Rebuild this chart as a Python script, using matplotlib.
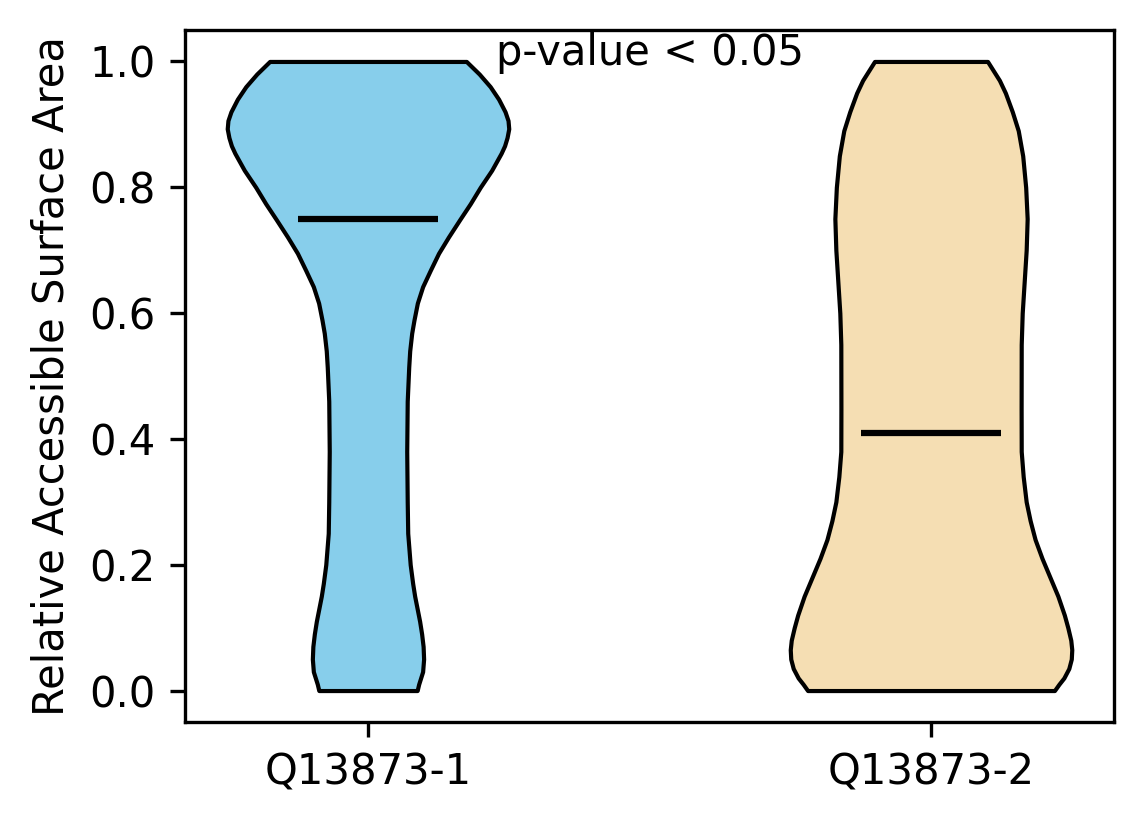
import numpy as np
import matplotlib
matplotlib.use('Agg')
import matplotlib.pyplot as plt

labels = ['Q13873-1', 'Q13873-2']
colors = ['skyblue', 'wheat']
means = [0.75, 0.41]

# density profile (relative half width), y in RSA units
rsa_1 = [0.0, 0.01, 0.02, 0.03, 0.05, 0.07, 0.09, 0.11, 0.13, 0.15,
         0.17, 0.20, 0.25, 0.30, 0.38, 0.46, 0.514, 0.54, 0.568, 0.589,
         0.616, 0.642, 0.668, 0.695, 0.721, 0.749, 0.774, 0.80, 0.827, 0.854,
         0.866, 0.879, 0.893, 0.906, 0.92, 0.94, 0.96, 0.98, 1.0]
dens_1 = [49.5, 51, 53, 55, 56, 55.5, 54, 52, 49.5, 47,
          45, 42.5, 40, 39.5, 39, 39.5, 41, 42, 44, 46.3,
          49.7, 55, 62.7, 71, 81, 92.5, 103, 113, 124.5, 134,
          137.5, 140, 141.7, 141, 138, 131.5, 123, 112, 99]

rsa_2 = [0.0, 0.01, 0.02, 0.035, 0.05, 0.065, 0.08, 0.10, 0.12, 0.15,
         0.18, 0.21, 0.24, 0.27, 0.30, 0.34, 0.38, 0.448, 0.55, 0.60,
         0.65, 0.70, 0.75, 0.80, 0.85, 0.89, 0.92, 0.95, 0.97, 0.985, 1.0]
dens_2 = [124.5, 129, 134, 139, 141.5, 142, 141, 138, 134.5, 128,
          120, 112, 105, 100, 96, 93, 91, 90.9, 91, 92,
          94, 96, 97, 95.5, 92.5, 88, 82, 75, 69, 63, 57]

stats = []
for rsa, dens, m in [(rsa_1, dens_1, means[0]), (rsa_2, dens_2, means[1])]:
    stats.append({'coords': np.array(rsa), 'vals': np.array(dens),
                  'mean': m, 'median': m, 'min': min(rsa), 'max': max(rsa)})

fig = plt.figure(figsize=(1144 / 300, 824 / 300), dpi=300)
ax = fig.add_axes([185 / 1144, 1 - 722 / 824, (1114 - 185) / 1144, (722 - 30) / 824])

parts = ax.violin(stats, positions=[1, 2], widths=0.5,
                  showmeans=True, showextrema=False, showmedians=False)
for body, c in zip(parts['bodies'], colors):
    body.set_facecolor(c)
    body.set_edgecolor('black')
    body.set_linewidth(1)
    body.set_alpha(1)
parts['cmeans'].set_color('black')
parts['cmeans'].set_linewidth(1.5)

ax.set_xticks([1, 2])
ax.set_xticklabels(labels)
ax.set_ylabel('Relative Accessible Surface Area')
ax.text(0.5, 0.95, 'p-value < 0.05', transform=ax.transAxes, ha='center')

fig.savefig('out.png', dpi=300)
